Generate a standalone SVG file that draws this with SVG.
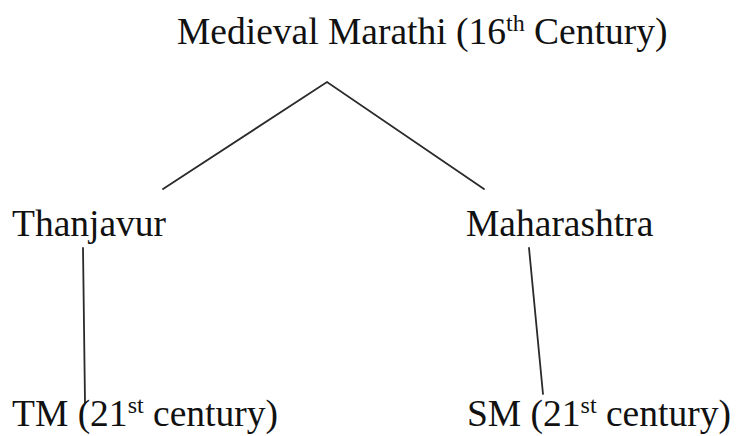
<svg xmlns="http://www.w3.org/2000/svg" width="736" height="436" viewBox="0 0 736 436">
  <style>
    .lbl { font-family: "Liberation Serif", "Times New Roman", serif; font-size: 37.5px; fill: #111; }
    .sup { font-size: 24px; }
    .edge { stroke: #2a2a2a; stroke-width: 1.8; fill: none; stroke-linecap: round; }
  </style>
  <rect width="736" height="436" fill="#ffffff"/>

  <g id="connectors">
    <polyline class="edge" points="163,189 327,82 484,189"/>
    <line class="edge" x1="83" y1="248" x2="85" y2="403"/>
    <line class="edge" x1="529" y1="248" x2="543" y2="394"/>
  </g>

  <g id="medieval-marathi">
    <text class="lbl" x="177" y="44">Medieval Marathi (16<tspan class="sup" dy="-13">th</tspan><tspan dy="13"> Century)</tspan></text>
  </g>

  <g id="thanjavur">
    <text class="lbl" x="12" y="236">Thanjavur</text>
  </g>

  <g id="maharashtra">
    <text class="lbl" x="466" y="236">Maharashtra</text>
  </g>

  <g id="tm">
    <text class="lbl" x="12" y="426">TM (21<tspan class="sup" dy="-13">st</tspan><tspan dy="13"> century)</tspan></text>
  </g>

  <g id="sm">
    <text class="lbl" x="467" y="426">SM (21<tspan class="sup" dy="-13">st</tspan><tspan dy="13"> century)</tspan></text>
  </g>
</svg>
